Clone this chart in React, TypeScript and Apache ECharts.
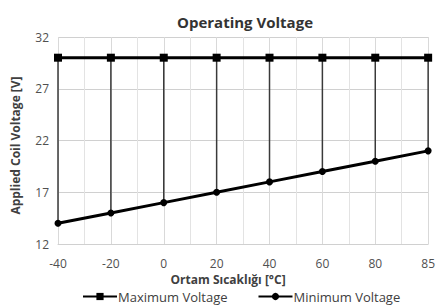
import React, { useEffect, useRef } from "react";
import * as echarts from "echarts";

const categories = ["-40", "-20", "0", "20", "40", "60", "80", "85"];
const maxVoltage = [30, 30, 30, 30, 30, 30, 30, 30];
const minVoltage = [14, 15, 16, 17, 18, 19, 20, 21];
const yTicks = [12, 17, 22, 27, 32];

export default function App() {
  const ref = useRef<HTMLDivElement>(null);
  useEffect(() => {
    if (!ref.current) return;
    const chart = echarts.init(ref.current, null, { renderer: "svg" });
    const font = "'Open Sans', sans-serif";
    const maxData = maxVoltage.map((v, i) => [i, v]);
    const minData = minVoltage.map((v, i) => [i, v]);
    const hlData = minVoltage.map((v, i) => [i, v, maxVoltage[i]]);
    chart.setOption({
      animation: false,
      textStyle: { fontFamily: font },
      title: {
        text: "Operating Voltage",
        left: 240,
        textAlign: "center",
        top: 9,
        textStyle: { fontFamily: font, fontSize: 15, fontWeight: "bold", color: "#333" },
      },
      grid: { left: 58, right: 6, top: 37, bottom: 61 },
      legend: {
        bottom: 2,
        left: 82,
        padding: 0,
        itemGap: 30,
        itemWidth: 34,
        itemHeight: 9,
        data: ["Maximum Voltage", "Minimum Voltage"],
        textStyle: { fontFamily: font, fontSize: 13, color: "#404040", padding: [0, 0, 0, -4] },
      },
      xAxis: {
        type: "value",
        min: 0,
        max: categories.length - 1,
        interval: 1,
        name: "Ortam Sıcaklığı [°C]",
        nameLocation: "middle",
        nameGap: 28,
        nameTextStyle: { fontFamily: font, fontSize: 12, fontWeight: "bold", color: "#404040", padding: [0, 30, 0, 0] },
        axisLine: { show: true, lineStyle: { color: "#d0d0d0" } },
        axisTick: { show: false },
        axisLabel: {
          formatter: (v: number) => categories[Math.round(v)] ?? "",
          fontFamily: font,
          fontSize: 12,
          color: "#505050",
          margin: 13,
        },
        splitLine: { show: true, lineStyle: { color: "#d9d9d9" } },
        minorTick: { show: false, splitNumber: 2 },
        minorSplitLine: { show: true, lineStyle: { color: "#e3e3e3" } },
      },
      yAxis: {
        type: "value",
        min: yTicks[0],
        max: yTicks[yTicks.length - 1],
        interval: 5,
        name: "Applied Coil Voltage [V]",
        nameLocation: "middle",
        nameGap: 37,
        nameTextStyle: { fontFamily: font, fontSize: 12, fontWeight: "bold", color: "#404040", padding: [0, 10, 0, 0] },
        axisLine: { show: false },
        axisTick: { show: false },
        axisLabel: { fontFamily: font, fontSize: 12, color: "#505050", margin: 9 },
        splitLine: { show: true, lineStyle: { color: "#d0d0d0" } },
      },
      series: [
        {
          type: "custom",
          name: "hl",
          data: hlData,
          z: 1,
          renderItem: (params: any, api: any) => {
            const p1 = api.coord([api.value(0), api.value(1)]);
            const p2 = api.coord([api.value(0), api.value(2)]);
            return {
              type: "line",
              shape: { x1: p1[0], y1: p1[1], x2: p2[0], y2: p2[1] },
              style: { stroke: "#3a3a3a", lineWidth: 1.5 },
            };
          },
        },
        {
          type: "line",
          name: "Maximum Voltage",
          data: maxData,
          z: 3,
          symbol: "rect",
          symbolSize: 8,
          lineStyle: { color: "#000", width: 3 },
          itemStyle: { color: "#000" },
        },
        {
          type: "line",
          name: "Minimum Voltage",
          data: minData,
          z: 3,
          symbol: "circle",
          symbolSize: 7,
          lineStyle: { color: "#000", width: 3 },
          itemStyle: { color: "#000" },
        },
      ],
    });
    return () => chart.dispose();
  }, []);
  return <div ref={ref} style={{ width: 438, height: 305, position: "absolute", left: 0, top: 0 }} />;
}
